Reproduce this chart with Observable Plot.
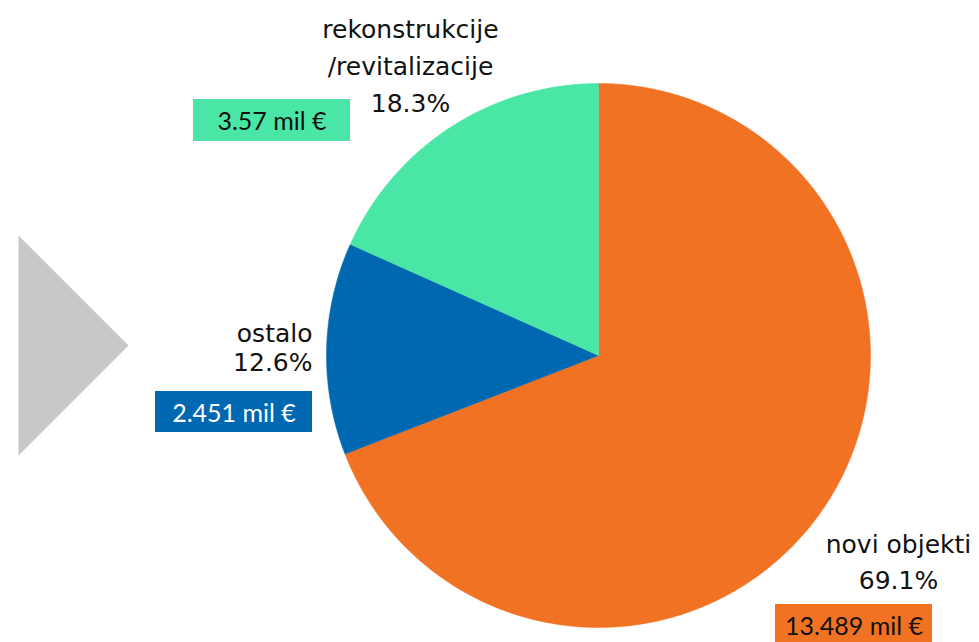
<!DOCTYPE html>
<html>
<head>
<meta charset="utf-8">
<script src="https://cdn.jsdelivr.net/npm/d3@7"></script>
<script src="https://cdn.jsdelivr.net/npm/@observablehq/plot@0.6"></script>
<style>
  html, body { margin: 0; padding: 0; background: #fff; }
  svg { display: block; }
</style>
</head>
<body>
<div id="chart"></div>
<script>
// ---- data ----
const categories = ["novi objekti", "ostalo", "rekonstrukcije\n/revitalizacije"];
const shares = [69.1, 12.6, 18.3];               // percent
const amounts = ["13.489 mil €", "2.451 mil €", "3.57 mil €"];
const colors = ["#f27224", "#0067b1", "#49e6a6"];
const amountTextColors = ["#111111", "#ffffff", "#111111"];

// ---- layout (pixel space) ----
const W = 979, H = 642;
const cx = 598, cy = 355, R = 272;
const labelPos = [ {x: 898, y: 552, anchor: "middle"}, {x: 312, y: 341, anchor: "end"}, {x: 410, y: 37, anchor: "middle"} ];
const labelLineGap = [36, 29, 37];
const boxPos = [ {x1: 775, x2: 932, y1: 604, y2: 650}, {x1: 155, x2: 312, y1: 391, y2: 432}, {x1: 193, x2: 350, y1: 99, y2: 141} ];
const triangle = [ {x: 18, y: 235}, {x: 128, y: 345}, {x: 18, y: 455} ];

// pie geometry from data
const arcs = d3.pie().sort(null).value(d => d)(shares);
const slicePts = [];
arcs.forEach((a, i) => {
  slicePts.push({k: i, x: cx, y: cy});
  const n = Math.max(2, Math.ceil((a.endAngle - a.startAngle) / (Math.PI / 360)));
  for (let j = 0; j <= n; j++) {
    const t = a.startAngle + (a.endAngle - a.startAngle) * j / n;
    slicePts.push({k: i, x: cx + R * Math.sin(t), y: cy - R * Math.cos(t)});
  }
  slicePts.push({k: i, x: cx, y: cy});
});

// label rows
const labelRows = [];
categories.forEach((c, i) => {
  const lines = c.split("\n").concat([shares[i].toFixed(1) + "%"]);
  lines.forEach((t, j) => labelRows.push({t, x: labelPos[i].x, y: labelPos[i].y + j * labelLineGap[i], anchor: labelPos[i].anchor}));
});
const boxes = amounts.map((a, i) => ({a, i, ...boxPos[i], color: colors[i], tc: amountTextColors[i]}));

const plot = Plot.plot({
  width: W, height: H,
  margin: 0,
  x: {domain: [0, W], range: [0, W], axis: null},
  y: {domain: [0, H], range: [0, H], axis: null},
  style: {background: "#fff"},
  marks: [
    Plot.line(triangle.concat([triangle[0]]), {x: "x", y: "y", fill: "#c7c8ca", stroke: "none"}),
    Plot.line(slicePts, {x: "x", y: "y", z: "k", fill: d => colors[d.k], stroke: d => colors[d.k], strokeWidth: 0.5, curve: "linear"}),
    Plot.rect(boxes, {x1: "x1", x2: "x2", y1: "y1", y2: "y2", fill: "color"}),
    Plot.text(boxes, {x: d => (d.x1 + d.x2) / 2, y: d => d.y1 + 30, text: "a", fill: "tc", fontSize: 25, fontFamily: "Lato", lineAnchor: "bottom"}),
    ...["middle", "end"].map(an => Plot.text(labelRows.filter(d => d.anchor === an), {x: "x", y: "y", text: "t", textAnchor: an, lineAnchor: "bottom", fontSize: 25, fontFamily: "DejaVu Sans", fill: "#111"}))
  ]
});
document.getElementById("chart").appendChild(plot);
</script>
</body>
</html>
